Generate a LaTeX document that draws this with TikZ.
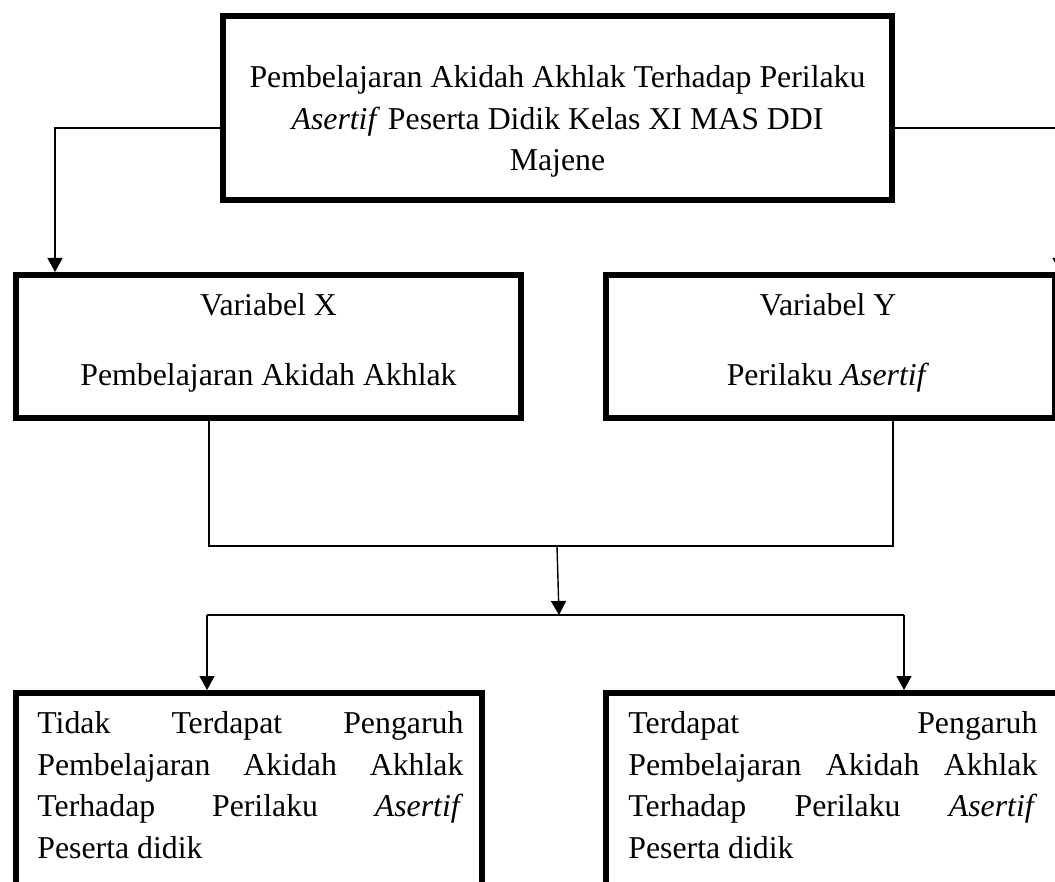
\documentclass[tikz,border=0pt]{standalone}
\usepackage{fontspec}
\setmainfont{Liberation Serif}
\usetikzlibrary{arrows.meta}

\begin{document}
\begin{tikzpicture}[x=0.5pt,y=-0.5pt,
        kotak/.style={draw,line width=2.8pt,inner sep=0pt},
        teks/.style={inner sep=0pt,font=\fontsize{15.9pt}{20.85pt}\selectfont},
        garis/.style={line width=0.7pt},
        panah/.style={line width=0.7pt,-{Triangle[width=7.5pt,length=7pt]}}]
    \useasboundingbox (0,0) rectangle (1055,882);
    \clip (0,0) rectangle (1055,882);
    \node[kotak,minimum width=334.7pt,minimum height=92.2pt] (atas) at (557.5,108) {};
    \node[kotak,minimum width=252.7pt,minimum height=71.7pt] (varx) at (268.5,346.5) {};
    \node[kotak,minimum width=224.7pt,minimum height=71.7pt] (vary) at (830.5,346.5) {};
    \node[kotak,minimum width=233.2pt,minimum height=104.7pt] (tidak) at (249,797.5) {};
    \node[kotak,minimum width=228.2pt,minimum height=104.7pt] (ada) at (834,797.5) {};
    \node[teks,align=center] (atasteks) at (557.5,121.5)
        {Pembelajaran Akidah Akhlak Terhadap Perilaku\\
         \textit{Asertif} Peserta Didik Kelas XI MAS DDI\\ Majene};
    \node[teks,align=center] (varxteks) at (268.5,342.5)
        {Variabel X\\[14.15pt] Pembelajaran Akidah Akhlak};
    \node[teks,align=center] (varyteks) at (828,342.5)
        {Variabel Y\\[14.15pt] Perilaku \textit{Asertif}};
    \node[teks,align=left,anchor=north west] (tidakteks) at (37,711)
        {\makebox[213pt][s]{Tidak Terdapat Pengaruh}\\
         \makebox[213pt][s]{Pembelajaran Akidah Akhlak}\\
         \makebox[213pt][s]{Terhadap Perilaku \textit{Asertif}}\\
         Peserta didik};
    \node[teks,align=left,anchor=north west] (adateks) at (628,711)
        {\makebox[204.5pt][s]{Terdapat Pengaruh}\\
         \makebox[204.5pt][s]{Pembelajaran Akidah Akhlak}\\
         \makebox[204.5pt][s]{Terhadap Perilaku \textit{Asertif}}\\
         Peserta didik};
    \coordinate (kiri) at (55,128);
    \coordinate (kanan) at (1060,128);
    \coordinate (gx) at (209,546);
    \coordinate (gy) at (893,546);
    \coordinate (gabung) at (557,546);
    \coordinate (pisah) at (559,615);
    \coordinate (c1) at (207,615);
    \coordinate (c2) at (904,615);
    \draw[panah] (atas.west |- kiri) -- (kiri) -- (kiri |- varx.north);
    \draw[panah] (atas.east |- kanan) -- (kanan) -- (kanan |- vary.north);
    \draw[garis] (gx |- varx.south) -- (gx) -- (gy) -- (gy |- vary.south);
    \draw[panah] (gabung) -- (pisah);
    \draw[garis] (c1) -- (c2);
    \draw[panah] (c1) -- (c1 |- tidak.north);
    \draw[panah] (c2) -- (c2 |- ada.north);
\end{tikzpicture}
\end{document}
